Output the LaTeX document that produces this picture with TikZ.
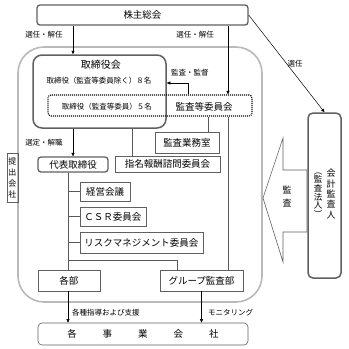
\documentclass[tikz,border=0pt]{standalone}
\usepackage{fontspec}
\setmainfont{Noto Sans CJK JP}
\usetikzlibrary{arrows.meta}

\begin{document}
\begin{tikzpicture}[
    x=1pt, y=-1pt,
    frame/.style={draw=gray!55, line width=1.6pt, rounded corners=26pt, inner sep=0pt},
    organ/.style={draw=gray!75!black, line width=1.3pt, rounded corners=3pt, inner sep=0pt, font=\fontsize{9.5}{10}\selectfont},
    unit/.style={draw=gray!75!black, line width=0.6pt, inner sep=0pt, font=\fontsize{9.5}{10}\selectfont},
    tag/.style={inner sep=0pt, font=\fontsize{7.5}{8}\selectfont},
    dep/.style={-{Triangle[length=3.5pt, width=3pt]}, line width=0.5pt},
    link/.style={draw=gray!70!black, line width=0.6pt}
]
    \useasboundingbox (0,0) rectangle (349,349);

    % columns of the connectors
    \coordinate (colT) at (68,0);
    \coordinate (colB) at (228,0);
    \coordinate (colN) at (132,0);
    \coordinate (colO) at (208,0);
    \coordinate (colS) at (188,83);
    \coordinate (colG) at (177,260);

    \node[frame, minimum width=244pt, minimum height=255pt] (company) at (140,174.5) {};
    \node[organ, minimum width=211pt, minimum height=20pt] (agm) at (142.5,15) {株主総会};

    % board and audit committee
    \node[organ, line width=1.5pt, rounded corners=9pt, minimum width=133pt, minimum height=73pt] (board) at (99.5,91.5) {};
    \node[inner sep=0pt, font=\fontsize{10}{10}\selectfont] (boardname) at (101,65) {取締役会};
    \node[tag] (boardnum) at (99,81) {取締役（監査等委員除く）８名};
    \node[draw, line width=1.1pt, dash pattern=on 1pt off 1pt, rounded corners=3pt, minimum width=204pt, minimum height=21pt, inner sep=0pt] (committee) at (150,105.5) {};
    \node[tag] (committeenum) at (107,107) {取締役（監査等委員）５名};
    \node[inner sep=0pt, font=\fontsize{9.5}{10}\selectfont] (committeename) at (204,107) {監査等委員会};

    \node[unit, minimum width=64pt, minimum height=21pt] (office) at (187,142.5) {監査業務室};
    \node[unit, minimum width=105pt, minimum height=16pt] (nomination) at (167.5,164) {指名報酬諮問委員会};
    \node[organ, minimum width=70pt, minimum height=15pt] (ceo) at (73,164.5) {代表取締役};

    \node[unit, minimum width=50pt, minimum height=19pt] (mgmt) at (105,191.5) {経営会議};
    \node[unit, minimum width=66pt, minimum height=19pt] (csr) at (113,216.5) {ＣＳＲ委員会};
    \node[unit, minimum width=123pt, minimum height=21pt] (risk) at (141.5,242.5) {リスクマネジメント委員会};

    \node[unit, minimum width=62pt, minimum height=21pt] (depts) at (69,280.5) {各部};
    \node[unit, minimum width=83pt, minimum height=21pt] (gaudit) at (201.5,280.5) {グループ監査部};
    \node[unit, rounded corners=4pt, minimum width=210pt, minimum height=22pt] (companies) at (143,334)
        {各\hspace{26pt}事\hspace{26pt}業\hspace{26pt}会\hspace{26pt}社};

    \node[unit, minimum width=11pt, minimum height=49pt, align=center, font=\fontsize{8}{11}\selectfont] (filer) at (12.5,177.5)
        {提\\出\\会\\社};

    % accounting auditor
    \node[organ, line width=1.5pt, rounded corners=5pt, minimum width=33pt, minimum height=165pt] (auditor) at (324.5,195.5) {};
    \node[inner sep=0pt, align=center, font=\fontsize{9}{10.4}\selectfont] (auditorname) at (331,194) {会\\計\\監\\査\\人};
    \node[inner sep=0pt, align=center, font=\fontsize{8.5}{8.6}\selectfont] (auditorfirm) at (318,195) {︵\\監\\査\\法\\人\\︶};

    \draw[gray!75!black, line width=0.6pt, fill=white]
        (263,198) -- (283,138) -- (283,170) -- (307,170) -- (307,232) -- (283,232) -- (283,262) -- cycle;
    \node[inner sep=0pt, align=center, font=\fontsize{9}{13}\selectfont] (auditmark) at (287,196) {監\\査};

    % connectors
    \draw[dep] (agm.south -| ceo) -- (board.north -| ceo);
    \draw[dep] (agm.south -| colB) -- (committee.north -| colB);
    \draw[dep] (agm.east) -- (auditor.north);
    \draw[dep] (committee.north -| colS) |- (board.east |- colS);
    \draw[dep] (board.south -| ceo) -- (ceo.north);
    \draw[link] (board.south -| colN) -- (nomination.north -| colN);
    \draw[link] (committee.south -| colO) -- (office.north -| colO);
    \draw[link] (committee.south -| colB) -- (gaudit.north -| colB);
    \draw[link] (ceo.south -| colT) -- (depts.north -| colT);
    \foreach \b in {mgmt, csr, risk}
        \draw[link] (\b.west -| colT) -- (\b.west);
    \draw[link] (colG -| colT) -| (gaudit.north -| colG);
    \draw[dep] (depts.south -| colT) -- (companies.north -| colT);
    \draw[dep] (gaudit.south) -- (companies.north -| gaudit.south);

    % labels
    \node[tag] (lblA) at (44,35) {選任・解任};
    \node[tag] (lblB) at (195,35) {選任・解任};
    \node[tag] (lblC) at (295,64) {選任};
    \node[tag] (lblD) at (190,73) {監査・監督};
    \node[tag] (lblE) at (44,143) {選定・解職};
    \node[tag, anchor=west] (lblF) at (72,313) {各種指導および支援};
    \node[tag, anchor=west] (lblG) at (208,313) {モニタリング};
\end{tikzpicture}
\end{document}
